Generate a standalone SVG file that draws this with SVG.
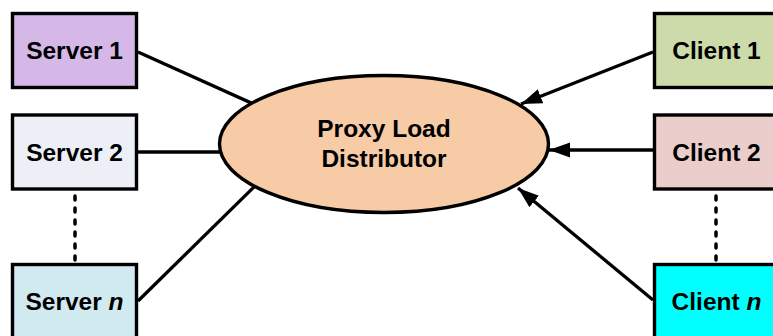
<svg xmlns="http://www.w3.org/2000/svg" width="773" height="336" viewBox="0 0 773 336">
  <defs>
    <style>
      .box { stroke: #000; stroke-width: 3.4; }
      .lbl { font-family: "Liberation Sans", Arial, sans-serif; font-weight: bold; font-size: 24.5px; fill: #000; text-anchor: middle; }
      .link { stroke: #000; stroke-width: 3.3; fill: none; }
      .dots { stroke: #000; stroke-width: 3.5; stroke-dasharray: 4 8; stroke-linecap: round; fill: none; }
    </style>
    <marker id="arrow" markerUnits="userSpaceOnUse" markerWidth="22" markerHeight="16" refX="21" refY="8" orient="auto">
      <path d="M0,0.5 L21,8 L0,15.5 Z" fill="#000"/>
    </marker>
  </defs>

  <rect width="773" height="336" fill="#fff"/>

  <!-- connectors: servers are plain links, clients send arrows into the distributor -->
  <g id="connectors">
    <line class="link" x1="138" y1="52" x2="258" y2="106"/>
    <line class="link" x1="138" y1="152" x2="224" y2="152"/>
    <line class="link" x1="138" y1="301" x2="258" y2="183"/>
    <line class="link" x1="653" y1="52" x2="521" y2="104" marker-end="url(#arrow)"/>
    <line class="link" x1="653" y1="150" x2="549" y2="150" marker-end="url(#arrow)"/>
    <line class="link" x1="653" y1="300" x2="518" y2="188" marker-end="url(#arrow)"/>
    <line class="dots" x1="75" y1="196" x2="75" y2="260"/>
    <line class="dots" x1="716" y1="196" x2="716" y2="260"/>
  </g>

  <g id="proxy">
    <ellipse cx="384" cy="144" rx="164.5" ry="68.5" fill="#f8cba7" stroke="#000" stroke-width="3.4"/>
    <text class="lbl" x="384" y="137">Proxy Load</text>
    <text class="lbl" x="384" y="167">Distributor</text>
  </g>

  <g id="server1">
    <rect class="box" x="12.5" y="13.5" width="124" height="74" fill="#d5b8e8"/>
    <text class="lbl" x="74.5" y="59">Server 1</text>
  </g>
  <g id="server2">
    <rect class="box" x="12.5" y="115" width="124" height="74" fill="#ecf0f6"/>
    <text class="lbl" x="74.5" y="160.5">Server 2</text>
  </g>
  <g id="serverN">
    <rect class="box" x="12.5" y="264.5" width="124" height="74" fill="#d1eaf0"/>
    <text class="lbl" x="74.5" y="310">Server <tspan font-style="italic">n</tspan></text>
  </g>

  <g id="client1">
    <rect class="box" x="654.5" y="13.5" width="124" height="74" fill="#cddaa9"/>
    <text class="lbl" x="716.5" y="59">Client 1</text>
  </g>
  <g id="client2">
    <rect class="box" x="654.5" y="115" width="124" height="74" fill="#ebcdcb"/>
    <text class="lbl" x="716.5" y="160.5">Client 2</text>
  </g>
  <g id="clientN">
    <rect class="box" x="654.5" y="264.5" width="124" height="74" fill="#00ffff"/>
    <text class="lbl" x="716.5" y="310">Client <tspan font-style="italic">n</tspan></text>
  </g>
</svg>
